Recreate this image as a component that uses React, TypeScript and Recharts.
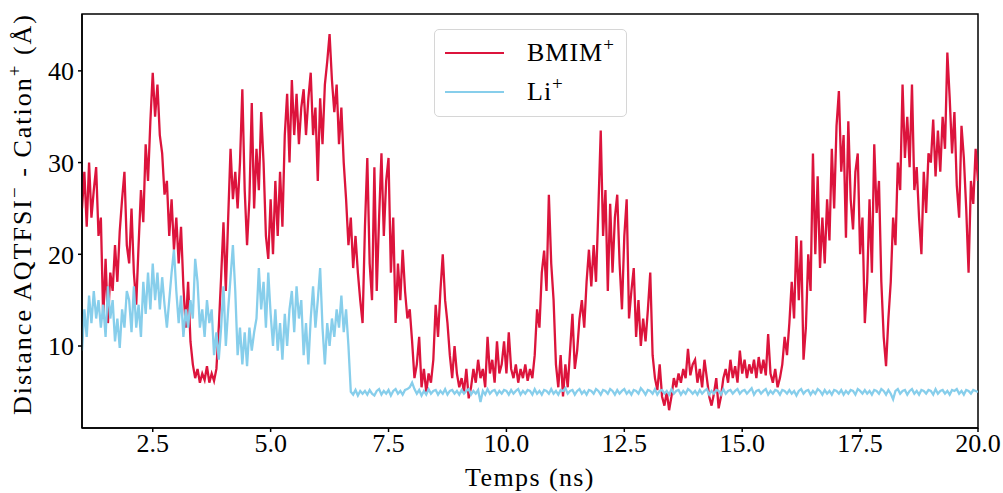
import { LineChart, Line, XAxis, YAxis, Label, ReferenceArea } from 'recharts';

// sampling grid of the trajectory (ns)
const T_START = 1.0;
const T_STEP = 0.05;

// distance AQTFSI- / BMIM+ (Å), one row per ns
const bmim = [
  25, 29, 23, 30, 24, 27, 29.5, 22, 24, 13, 19.5, 12.5, 18, 16, 21, 17, 22.5, 26, 29, 21,
  19, 25, 18, 14.5, 21, 27, 23.5, 32, 28, 34.5, 39.8, 35, 38.5, 33, 31, 26.5, 28, 22, 26, 20.5,
  24, 19, 23, 16.5, 12, 17, 10.5, 8, 6.5, 7.5, 6, 7, 6.3, 7.8, 6, 7, 6.2, 7.5, 12, 17.5,
  23.5, 16, 24, 31.5, 26, 29, 25, 30, 38, 27, 21, 26, 36.5, 25, 31.5, 27, 35.5, 30, 22, 19.5,
  26, 20, 28, 22, 29, 23, 33, 37.5, 30, 39, 33, 37.5, 32, 36, 38, 33, 37, 39.8, 33, 36,
  28, 37, 32, 38.5, 41, 44, 39, 35.5, 38.5, 32, 36, 30, 26, 21, 24, 18.5, 22, 18, 15, 12.5,
  23, 30.5, 19, 15, 29.5, 16, 24, 31, 22, 28, 30.5, 18, 24, 12.5, 19, 15, 20.5, 16, 13, 14,
  10.5, 6.5, 8, 11, 5.5, 7.5, 5, 7, 6, 8.5, 14.5, 11, 16, 20, 15, 12.5, 9, 6.5, 10, 7,
  5.5, 6.5, 5, 7.5, 4.3, 5.5, 7.5, 6, 8.5, 6.5, 7.5, 5.5, 11, 7, 8.5, 6, 10.5, 7, 8, 10.5,
  7, 11.5, 7.5, 6.5, 8, 6, 7.5, 6.5, 8, 6.2, 7.5, 6.5, 9, 14, 12, 18, 20.4, 16, 26.5, 19,
  15, 8, 5.5, 9, 4.5, 8, 5.5, 9.5, 13.5, 7.5, 9.5, 13, 15, 12, 17, 20.5, 16.5, 21, 17, 25,
  33.5, 22, 27, 16, 25.5, 18, 24, 26.5, 19, 14, 22, 26, 13, 16, 18.5, 11, 15, 10, 13, 10.5,
  14, 18, 9, 6.5, 5.2, 8, 4.5, 3.5, 5, 3, 4.5, 6.5, 5.5, 7, 6, 7.5, 6.5, 9.7, 6.8, 8,
  8.5, 6, 7.5, 5.5, 8.5, 6.5, 4.5, 3.5, 4.8, 6.5, 3.2, 4.5, 6.5, 7.5, 6, 8.5, 6.5, 7.8, 6, 9.5,
  7, 8.5, 6.5, 8, 7, 8.5, 6.5, 8.8, 7, 8.5, 6.8, 11.3, 7, 6, 7.5, 5.5, 6.5, 8, 11, 9,
  12.5, 17, 13, 22, 15, 21.5, 8.5, 12, 20, 16, 31, 20, 28.5, 18.5, 24, 19, 26, 21.5, 31.5, 25,
  34, 37.8, 29, 33, 21.8, 34.5, 26, 22.7, 29, 31, 20, 24, 12.5, 17, 26, 18, 32, 24.5, 28, 17,
  11, 7.8, 13, 17, 24, 21, 30, 27, 38.5, 30.5, 35, 29.5, 38.5, 27, 29.5, 24, 20, 29, 24.5, 31,
  30, 34.7, 28.5, 33.5, 29, 35, 31.5, 42, 37, 31, 35.5, 27.5, 24, 34, 30.5, 25, 18, 28, 25.5, 31.5,
  28,
];

// distance AQTFSI- / Li+ (Å)
const li = [
  9.5, 14, 11, 15.5, 12.5, 16, 13, 15, 12, 14.5, 11, 16.5, 13, 15, 10.5, 13, 9.8, 14, 12, 16,
  15, 11.5, 16.5, 12, 14.5, 11, 17, 13.5, 18, 14, 19, 15, 18, 14, 17.5, 14.5, 12, 15, 18, 20.5,
  16, 12.5, 15.5, 11, 14, 12, 15, 13, 19.5, 17, 12, 14, 11, 15, 12.5, 14, 9, 11.5, 8.5, 12,
  16.5, 10, 14, 17.5, 21, 16, 9, 12, 8, 11.5, 7.8, 12, 9.5, 11.5, 13, 18.5, 14, 17, 12, 18,
  13.5, 10, 14, 9.5, 12.5, 8.5, 13.5, 10, 14, 16, 11.5, 16.5, 13, 15, 9, 12.5, 8, 13, 16.5, 12,
  15, 18.5, 12, 8, 12.5, 10, 13, 11, 14, 12, 15.5, 11.5, 14, 10, 5.0, 4.7, 5.2, 4.6, 5.1, 4.8,
  5.1, 4.7, 5.2, 4.8, 4.6, 5.1, 5.3, 4.7, 5.1, 4.8, 5.2, 4.6, 5.1, 5.3, 4.8, 5.1, 4.7, 5.2, 5.3, 5.5,
  6.0, 5.3, 4.8, 5.2, 4.6, 5.1, 4.7, 5.3, 4.8, 5.1, 5.2, 4.7, 5.1, 4.8, 5.3, 4.7, 5.1, 5.2, 4.8, 5.1,
  4.7, 5.2, 4.8, 5.1, 5.3, 4.7, 5.1, 4.8, 5.2, 3.9, 5.1, 4.7, 5.3, 4.8, 5.1, 5.2, 4.7, 5.1, 4.8, 5.2,
  5.1, 4.7, 5.2, 4.8, 5.1, 5.3, 4.7, 5.1, 4.8, 5.2, 5.1, 4.7, 5.3, 4.8, 5.1, 4.7, 5.2, 5.1, 4.8, 5.3,
  4.8, 5.1, 4.7, 5.2, 5.1, 5.4, 4.8, 5.1, 5.2, 4.7, 5.1, 5.3, 4.8, 5.1, 4.7, 5.2, 5.1, 4.8, 5.3, 5.1,
  4.7, 5.2, 5.1, 4.8, 5.3, 5.1, 4.7, 5.2, 4.8, 5.1, 5.3, 4.8, 5.1, 4.7, 5.2, 5.1, 4.8, 5.4, 5.1, 4.7,
  5.2, 5.1, 4.8, 5.3, 4.7, 5.1, 5.2, 4.8, 5.1, 4.7, 5.3, 4.8, 5.1, 5.2, 4.7, 5.1, 4.8, 5.3, 5.1, 4.8,
  5.1, 4.7, 5.2, 4.8, 5.1, 5.3, 4.7, 5.1, 4.8, 5.2, 5.1, 4.7, 5.3, 4.8, 5.1, 5.2, 4.8, 5.1, 5.3, 4.8,
  5.1, 5.2, 4.8, 5.1, 5.4, 4.7, 5.1, 5.2, 4.8, 5.1, 5.3, 4.7, 5.1, 4.8, 5.2, 5.1, 4.7, 5.2, 5.1, 4.8,
  5.2, 4.8, 5.1, 4.6, 5.1, 5.3, 4.8, 5.1, 5.2, 4.7, 5.1, 4.8, 5.3, 5.1, 4.7, 5.2, 4.8, 5.1, 4.7, 5.2,
  5.1, 4.8, 5.2, 4.7, 5.1, 4.8, 5.2, 5.1, 4.7, 5.3, 5.1, 4.8, 5.2, 4.8, 5.1, 4.7, 5.2, 5.1, 4.8, 5.3,
  5.1, 4.7, 5.2, 4.8, 4.2, 5.1, 5.3, 4.8, 5.1, 5.2, 4.7, 5.1, 5.3, 4.8, 5.1, 4.7, 5.2, 5.1, 4.8, 5.2,
  5.1, 4.7, 5.3, 4.8, 5.1, 5.2, 4.8, 5.1, 4.7, 5.2, 5.1, 5.3, 4.8, 5.1, 4.7, 5.2, 5.1, 4.8, 5.2, 5.1,
  5.0,
];

const xTicks = [2.5, 5.0, 7.5, 10.0, 12.5, 15.0, 17.5, 20.0];
const yTicks = [10, 20, 30, 40];

const X_DOMAIN: [number, number] = [1, 20];
const Y_DOMAIN: [number, number] = [1.06, 46.2];

const RED = '#DC143C';
const BLUE = '#87CEEB';
const FONT = '"Liberation Serif", "Times New Roman", serif';

const data = bmim.map((v, i) => ({
  t: Math.round((T_START + i * T_STEP) * 100) / 100,
  bmim: v,
  li: li[i],
}));

const tickStyle = { fill: '#000', fontSize: 26, fontFamily: FONT };

function LegendBox() {
  const rows = [
    { color: RED, name: 'BMIM', sup: '+' },
    { color: BLUE, name: 'Li', sup: '+' },
  ];
  return (
    <div
      style={{
        position: 'absolute',
        left: 434,
        top: 29,
        width: 193,
        height: 88,
        border: '1px solid #d6d6d6',
        borderRadius: 5,
        background: 'rgba(255,255,255,0.8)',
        boxSizing: 'border-box',
        fontFamily: FONT,
        fontSize: 26,
        color: '#000',
      }}
    >
      {rows.map((r, i) => (
        <div key={r.name} style={{ position: 'absolute', left: 0, top: 3 + i * 39, height: 39, display: 'flex', alignItems: 'center' }}>
          <div style={{ marginLeft: 10, width: 59, height: 2, background: r.color }} />
          <div style={{ marginLeft: 23, lineHeight: '39px', letterSpacing: 1 }}>
            {r.name}
            <sup style={{ fontSize: 19, verticalAlign: 'top', lineHeight: '24px' }}>{r.sup}</sup>
          </div>
        </div>
      ))}
    </div>
  );
}

export default function App() {
  return (
    <div style={{ position: 'absolute', left: 0, top: 0, width: 1003, height: 493, background: '#fff' }}>
      <LineChart width={1003} height={493} data={data} margin={{ top: 14, right: 25, bottom: 5, left: 22 }}>
        <XAxis
          dataKey="t"
          type="number"
          domain={X_DOMAIN}
          ticks={xTicks}
          tickFormatter={(v: number) => v.toFixed(1)}
          allowDataOverflow
          height={60}
          tickSize={4}
          tickMargin={2}
          tick={tickStyle}
          stroke="#000"
          strokeWidth={1.5}
        >
          <Label
            content={() => (
              <text x={530} y={486} textAnchor="middle" fontSize={26} letterSpacing={1.4} fontFamily={FONT} fill="#000">
                Temps (ns)
              </text>
            )}
          />
        </XAxis>
        <YAxis
          type="number"
          domain={Y_DOMAIN}
          ticks={yTicks}
          allowDataOverflow
          width={60}
          tickSize={4}
          tickMargin={4}
          tick={tickStyle}
          stroke="#000"
          strokeWidth={1.5}
        >
          <Label
            content={() => (
              <text x={31} y={214} transform="rotate(-90 31 214)" textAnchor="middle" fontSize={26} letterSpacing={2} fontFamily={FONT} fill="#000">
                Distance AQTFSI
                <tspan dy={-10} fontSize={19}>−</tspan>
                <tspan dy={10}> - Cation</tspan>
                <tspan dy={-10} fontSize={19}>+</tspan>
                <tspan dy={10}> (Å)</tspan>
              </text>
            )}
          />
        </YAxis>
        <Line type="linear" dataKey="bmim" stroke={RED} strokeWidth={2.3} dot={false} isAnimationActive={false} />
        <Line type="linear" dataKey="li" stroke={BLUE} strokeWidth={2.3} dot={false} isAnimationActive={false} />
        <ReferenceArea
          x1={X_DOMAIN[0]}
          x2={X_DOMAIN[1]}
          y1={Y_DOMAIN[0]}
          y2={Y_DOMAIN[1]}
          fill="none"
          stroke="#000"
          strokeWidth={1.5}
          ifOverflow="visible"
        />
      </LineChart>
      <LegendBox />
    </div>
  );
}
